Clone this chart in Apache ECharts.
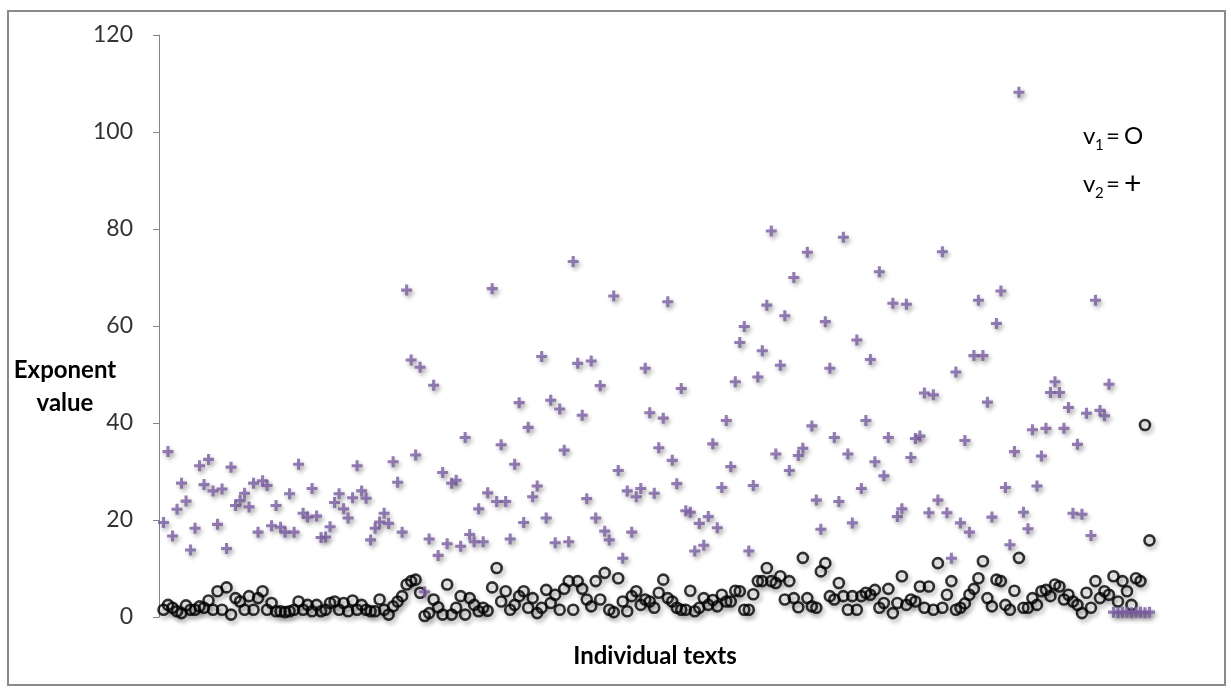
<!DOCTYPE html>
<html>
<head>
<meta charset="utf-8">
<title>Exponent value</title>
<script src="https://cdn.jsdelivr.net/npm/echarts@6/dist/echarts.min.js"></script>
<style>
  html, body { margin: 0; padding: 0; background: #fff; }
  #chart { width: 1231px; height: 691px; }
</style>
</head>
<body>
<div id="chart"></div>
<script>
  // tick labels of the y axis
  const yTicks = [0, 20, 40, 60, 80, 100, 120]

  // v1 (circles), one value per text
  const v1 = [
    1.5, 2.5, 1.9, 1.2, 0.8, 2.4, 1.5, 1.5, 2.2, 1.9, 3.4, 1.5, 5.3, 1.5, 6.1, 0.5, 3.9, 3.2, 1.5, 4.3,
    1.5, 3.9, 5.3, 1.5, 2.9, 1.2, 1.2, 1.0, 1.2, 1.5, 3.2, 1.5, 2.5, 1.2, 2.5, 1.2, 1.5, 2.9, 3.2, 1.5,
    2.9, 1.2, 3.4, 1.5, 2.5, 1.5, 1.2, 1.2, 3.6, 1.5, 0.5, 2.2, 3.2, 4.3, 6.7, 7.4,
    7.7, 5.0, 0.2, 0.8, 3.6, 2.0, 0.5, 6.7, 0.5, 1.9, 4.3, 0.5, 3.9, 2.5, 1.2, 1.9, 1.3, 6.1, 10.1, 3.2,
    5.3, 1.5, 2.5, 4.3, 5.3, 1.9, 3.9, 0.8, 1.9, 5.6, 2.9, 4.6, 1.5, 5.8, 7.4, 1.5, 7.4, 5.8, 3.6, 2.2,
    7.4, 3.6, 9.1, 1.5, 1.0, 8.0, 3.2, 1.2, 4.3, 5.3, 2.5, 3.6, 3.2, 1.9, 5.0,
    7.7, 3.9, 3.2, 1.9, 1.5, 1.5, 5.4, 1.2, 1.9, 3.9, 2.5, 3.5, 2.2, 4.6, 3.2, 3.2, 5.4, 5.3, 1.5, 1.5,
    4.7, 7.4, 7.4, 10.1, 7.4, 7.0, 8.4, 3.6, 7.4, 3.9, 2.0, 12.2, 3.9, 2.2, 1.9, 9.4, 11.1, 4.3, 3.6, 7.0,
    4.3, 1.5, 4.3, 1.5, 4.3, 5.0, 4.6, 5.6, 1.9, 2.9, 5.8, 0.8, 2.9, 8.4, 2.5,
    3.6, 3.2, 6.3, 1.9, 6.3, 1.5, 11.1, 1.9, 4.6, 7.4, 1.5, 1.9, 2.8, 4.6, 5.8, 8.0, 11.5, 3.9, 2.2, 7.7,
    7.4, 2.5, 1.5, 5.4, 12.2, 1.9, 1.9, 3.9, 2.5, 5.3, 5.6, 4.3, 6.7, 6.3, 3.6, 4.6, 3.2, 2.5, 0.8, 5.0,
    1.9, 7.4, 3.9, 5.3, 4.6, 8.4, 3.2, 7.4, 5.3, 2.5, 8.0, 7.4, 39.6, 15.8
  ]

  // v2 (crosses)
  const v2 = [
    19.5, 34.1, 16.7, 22.2, 27.6, 23.9, 13.8, 18.3, 31.2, 27.3, 32.5, 26.0, 19.1, 26.4, 14.1, 30.9, 23.0, 24.0,
    25.5, 22.7, 27.6, 17.5, 28.1, 27.1, 18.8, 23.0, 18.5, 17.5, 25.4, 17.5, 31.5, 21.4, 20.6, 26.5, 20.8, 16.4,
    16.5, 18.6, 23.6, 25.4, 22.3, 20.4, 24.6, 31.2, 26.0, 24.5, 15.9, 18.3, 19.6, 21.4, 19.3, 32.0, 27.8, 17.5,
    67.4, 53.0, 33.4, 51.5, 5.2, 16.1, 47.8, 12.7, 29.8, 15.1, 27.6, 28.2, 14.6, 37.0, 17.0, 15.5, 22.3, 15.5,
    25.6, 67.7, 23.8, 35.5, 23.8, 16.1, 31.5, 44.2, 19.5, 39.1, 24.8, 27.0, 53.7, 20.4, 44.7, 15.3, 42.9, 34.4,
    15.5, 73.3, 52.3, 41.6, 24.4, 52.8, 20.4, 47.7, 17.7, 15.9, 66.2, 30.2, 12.1, 26.0, 17.5, 24.8, 26.5, 51.3,
    42.1, 25.5, 34.9, 41.0, 65.0, 32.3, 27.5, 47.1, 21.9, 21.6, 13.6, 19.3, 14.8, 20.7, 35.7, 18.4, 26.7, 40.5,
    31.0, 48.5, 56.6, 59.9, 13.6, 27.1, 49.5, 54.9, 64.3, 79.6, 33.6, 51.9, 62.1, 30.2, 70.0, 33.3, 34.8,
    75.2, 39.4, 24.1, 18.1, 60.9, 51.3, 37.0, 23.8, 78.3, 33.6, 19.4, 57.1, 26.5, 40.5, 53.1, 32.0, 71.2, 29.1,
    37.0, 64.7, 20.7, 22.3, 64.5, 32.9, 36.8, 37.3, 46.2, 21.5, 45.8, 24.1, 75.3, 21.5, 12.1, 50.5, 19.4,
    36.4, 17.5, 53.9, 65.3, 53.9, 44.3, 20.6, 60.5, 67.2, 26.7, 14.9, 34.1, 108.2, 21.6, 18.2, 38.6, 27.0,
    33.2, 38.9, 46.3, 48.5, 46.3, 38.9, 43.2, 21.4, 35.6, 21.2, 42.0, 16.8, 65.3, 42.6, 41.5, 48.0,
    1.0, 0.9, 1.0, 1.0, 0.9, 1.0, 1.0, 0.9, 1.0
  ]

  const labelFont = 'Lato, "Open Sans", sans-serif'
  const crossPath = 'path://M7.2,0h5.6v7.2h7.2v5.6h-7.2v7.2h-5.6v-7.2h-7.2v-5.6h7.2z'
  const markShadow = {
    shadowBlur: 4,
    shadowColor: 'rgba(0, 0, 0, 0.4)',
    shadowOffsetX: 2,
    shadowOffsetY: 3
  }

  const chart = echarts.init(document.getElementById('chart'))

  const option = {
    animation: false,
    backgroundColor: '#fff',
    grid: {
      left: 159,
      right: 59,
      top: 35,
      bottom: 74
    },
    xAxis: {
      type: 'value',
      min: 0,
      max: 225,
      axisLine: { show: false },
      axisTick: { show: false },
      axisLabel: { show: false },
      splitLine: { show: false }
    },
    yAxis: {
      type: 'value',
      min: yTicks[0],
      max: yTicks[yTicks.length - 1],
      interval: yTicks[1] - yTicks[0],
      axisLine: {
        show: true,
        lineStyle: { color: '#868686', width: 1 }
      },
      axisTick: {
        show: true,
        length: 6,
        lineStyle: { color: '#868686' }
      },
      axisLabel: {
        margin: 26,
        color: '#333',
        fontFamily: labelFont,
        fontSize: 23
      },
      splitLine: { show: false }
    },
    series: [
      {
        name: 'v1',
        type: 'scatter',
        symbol: 'circle',
        symbolSize: 10,
        data: v1.map((v, i) => [i + 1, v]),
        itemStyle: Object.assign({
          color: 'rgba(0,0,0,0)',
          borderColor: '#000',
          borderWidth: 2.6
        }, markShadow)
      },
      {
        name: 'v2',
        type: 'scatter',
        symbol: crossPath,
        symbolSize: 11,
        data: v2.map((v, i) => [i + 1, v]),
        itemStyle: Object.assign({ color: '#7a5ca3' }, markShadow)
      }
    ],
    graphic: [
      // outer frame
      {
        type: 'rect',
        shape: { x: 8, y: 11, width: 1217, height: 674 },
        style: { fill: 'none', stroke: '#8a8a8a', lineWidth: 2 },
        silent: true
      },
      // axis titles
      {
        type: 'text',
        x: 65,
        y: 370,
        style: {
          text: 'Exponent',
          font: 'bold 24px ' + labelFont,
          fill: '#000',
          align: 'center',
          verticalAlign: 'middle'
        }
      },
      {
        type: 'text',
        x: 65,
        y: 403,
        style: {
          text: 'value',
          font: 'bold 24px ' + labelFont,
          fill: '#000',
          align: 'center',
          verticalAlign: 'middle'
        }
      },
      {
        type: 'text',
        x: 655,
        y: 656,
        style: {
          text: 'Individual texts',
          font: 'bold 24px ' + labelFont,
          fill: '#000',
          align: 'center',
          verticalAlign: 'middle'
        }
      },
      // key: v1 = O, v2 = +
      { type: 'text', x: 1083, y: 136, style: { text: 'v', font: '24px ' + labelFont, fill: '#000', verticalAlign: 'middle' } },
      { type: 'text', x: 1095, y: 145, style: { text: '1', font: '15px ' + labelFont, fill: '#000', verticalAlign: 'middle' } },
      { type: 'text', x: 1106, y: 136, style: { text: '=', font: '24px ' + labelFont, fill: '#000', verticalAlign: 'middle' } },
      { type: 'text', x: 1124, y: 136, style: { text: 'O', font: '24px ' + labelFont, fill: '#000', verticalAlign: 'middle' } },
      { type: 'text', x: 1083, y: 184, style: { text: 'v', font: '24px ' + labelFont, fill: '#000', verticalAlign: 'middle' } },
      { type: 'text', x: 1095, y: 193, style: { text: '2', font: '15px ' + labelFont, fill: '#000', verticalAlign: 'middle' } },
      { type: 'text', x: 1106, y: 184, style: { text: '=', font: '24px ' + labelFont, fill: '#000', verticalAlign: 'middle' } },
      { type: 'text', x: 1124, y: 184, style: { text: '+', font: '30px ' + labelFont, fill: '#000', verticalAlign: 'middle' } }
    ]
  }

  chart.setOption(option)

  window.addEventListener('resize', () => {
    chart.resize()
  })
</script>
</body>
</html>
